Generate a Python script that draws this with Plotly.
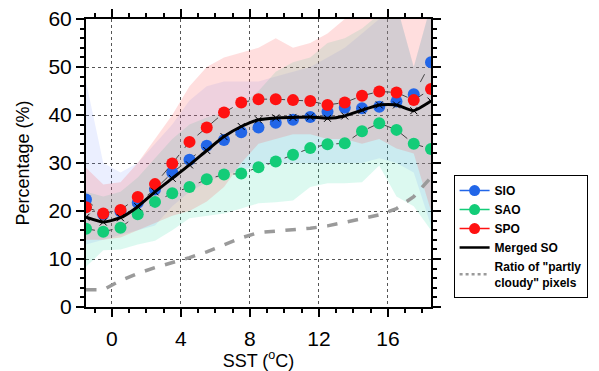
import plotly.graph_objects as go

sst = [-1.5, -0.5, 0.5, 1.5, 2.5, 3.5, 4.5, 5.5, 6.5, 7.5, 8.5, 9.5, 10.5, 11.5, 12.5, 13.5, 14.5, 15.5, 16.5, 17.5, 18.5]

sio = [22.4, 19.3, 19.9, 21.7, 24.5, 28.0, 30.7, 33.6, 34.8, 36.4, 37.4, 38.4, 39.0, 39.6, 40.7, 41.5, 41.4, 41.7, 42.8, 44.3, 51.0]
sao = [16.3, 15.7, 16.5, 19.3, 21.9, 23.7, 25.0, 26.6, 27.6, 27.8, 29.1, 30.3, 31.7, 33.1, 33.9, 34.1, 36.6, 38.3, 36.9, 34.0, 32.9]
spo = [20.8, 19.5, 20.2, 22.9, 25.6, 29.9, 34.4, 37.4, 40.5, 42.6, 43.3, 43.3, 43.1, 42.9, 42.1, 42.6, 44.0, 44.9, 44.7, 43.1, 45.4]
merged = [18.7, 17.7, 18.6, 20.9, 24.0, 26.8, 29.6, 32.6, 35.5, 37.6, 39.0, 39.4, 39.5, 39.6, 39.3, 39.8, 41.0, 42.1, 42.1, 40.9, 42.9]
ratio = [3.6, 3.6, 5.5, 7.0, 8.2, 9.2, 10.3, 11.5, 13.0, 14.4, 15.5, 15.8, 16.0, 16.4, 16.9, 17.6, 18.4, 19.2, 20.5, 23.0, 27.0]

# spread envelopes
sio_hi = [47, 30, 28, 30, 34, 38, 43, 46, 47, 47, 47, 48, 49, 50, 52, 54, 57, 60, 63, 50, 63]
sio_lo = [13, 14, 15, 16, 17, 21, 24, 26, 27.5, 28.5, 29.5, 30, 30, 30, 30, 30, 30, 31, 30, 28, 17]
sao_hi = [24, 23, 24, 27, 31, 35, 38, 39.5, 40.5, 42, 45, 49, 51, 52, 55, 56, 58, 61, 63, 50, 63]
sao_lo = [8.4, 11.8, 12, 13, 13.8, 16, 18.5, 19, 19.5, 20.5, 21.6, 21.8, 22.2, 25, 25.8, 25.8, 26, 29.5, 23, 21, 16]
spo_hi = [29, 25.5, 26, 30, 35, 40, 46, 50, 52, 53, 54, 56, 54, 55, 57, 60, 63, 63, 63, 63, 63]
spo_lo = [14, 14, 14.5, 16, 17.5, 19, 20, 22, 25, 30, 34, 35, 36, 36, 35, 35, 34, 35, 33, 32, 20]

x_ticks = [0, 4, 8, 12, 16]
y_ticks = [0, 10, 20, 30, 40, 50, 60]

FONT = "Liberation Sans, Arial, sans-serif"
fig = go.Figure()

def band(lo, hi, color):
    fig.add_trace(go.Scatter(x=sst, y=lo, mode="lines", line=dict(width=0),
                             showlegend=False, hoverinfo="skip"))
    fig.add_trace(go.Scatter(x=sst, y=hi, mode="lines", line=dict(width=0),
                             fill="tonexty", fillcolor=color,
                             showlegend=False, hoverinfo="skip"))

band(sio_lo, sio_hi, "rgba(100,130,255,0.13)")
band(sao_lo, sao_hi, "rgba(40,220,160,0.16)")
band(spo_lo, spo_hi, "rgba(255,80,80,0.19)")

fig.add_trace(go.Scatter(x=sst, y=ratio, mode="lines",
                         line=dict(color="#9a9a9a", width=3.5, dash="dash"),
                         showlegend=False))

conn = dict(color="#444444", width=1, dash="dash")
for name, vals, col in [("SIO", sio, "#2266e8"), ("SAO", sao, "#13cc78"), ("SPO", spo, "#ff1111")]:
    fig.add_trace(go.Scatter(x=sst, y=vals, mode="lines+markers", line=conn,
                             marker=dict(color=col, size=12),
                             showlegend=False))

fig.add_trace(go.Scatter(x=sst, y=merged, mode="lines+markers",
                         line=dict(color="black", width=3, shape="spline", smoothing=0.5),
                         marker=dict(symbol="x-thin", size=7, line=dict(color="black", width=1)),
                         showlegend=False))

# legend entries
for name, col in [("SIO", "#2266e8"), ("SAO", "#13cc78"), ("SPO", "#ff1111")]:
    fig.add_trace(go.Scatter(x=[None], y=[None], mode="lines+markers", name=name,
                             line=dict(color=col, width=1.5), marker=dict(color=col, size=11)))
fig.add_trace(go.Scatter(x=[None], y=[None], mode="lines", name="Merged SO",
                         line=dict(color="black", width=2.5)))
fig.add_trace(go.Scatter(x=[None], y=[None], mode="lines", name='Ratio of "partly<br>cloudy" pixels',
                         line=dict(color="#9a9a9a", width=2.5, dash="dot")))

axis_common = dict(showline=True, linecolor="black", linewidth=2, mirror="ticks",
                   ticks="outside", tickcolor="black", tickwidth=2, ticklen=8,
                   showgrid=True, gridcolor="#555555", griddash="dot", gridwidth=1,
                   zeroline=False, automargin=False, layer="above traces",
                   ticklabeloverflow="allow",
                   tickfont=dict(family=FONT, size=21, color="black"))

# page body has an 8px default margin, so the figure is sized to fit inside it
fig.update_layout(
    width=591, height=363,
    margin=dict(l=78, r=162, t=11, b=64),
    paper_bgcolor="white", plot_bgcolor="white",
    font=dict(family=FONT, color="black"),
    xaxis=dict(range=[-1.5, 18.5], tickvals=x_ticks, ticklabelstandoff=4,
               minor=dict(dtick=1, tick0=0, ticks="outside", ticklen=4, tickcolor="black", showgrid=False),
               title=dict(text="SST (<sup>o</sup>C)", font=dict(size=18), standoff=10),
               **axis_common),
    yaxis=dict(range=[0, 60], tickvals=y_ticks, ticklabelstandoff=0,
               minor=dict(dtick=2, tick0=0, ticks="outside", ticklen=4, tickcolor="black", showgrid=False),
               title=dict(text="Percentage (%)", font=dict(size=18), standoff=14),
               **axis_common),
    legend=dict(x=1.0655, y=0.458, xanchor="left", yanchor="top",
                bordercolor="black", borderwidth=1, bgcolor="white",
                traceorder="normal",
                font=dict(size=12, family=FONT, weight="bold"),
                tracegroupgap=0, itemwidth=30),
)

fig.write_html("out.html")
